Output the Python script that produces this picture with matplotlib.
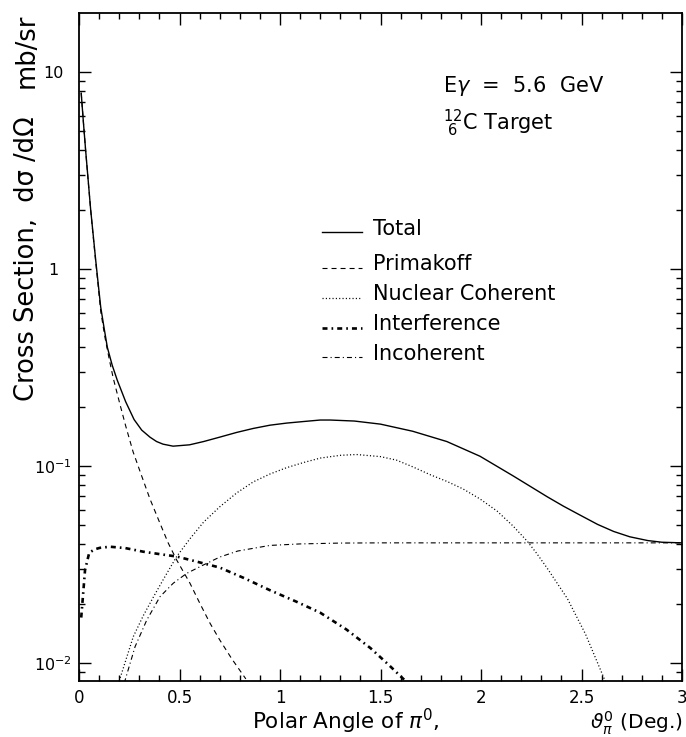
import matplotlib
matplotlib.use("Agg")
import matplotlib.pyplot as plt
from matplotlib.lines import Line2D
from matplotlib.ticker import MultipleLocator, FuncFormatter, LogLocator, NullFormatter

plt.rcParams['font.family'] = ['DejaVu Sans']
plt.rcParams['mathtext.fontset'] = 'dejavusans'
plt.rcParams['lines.scale_dashes'] = False

# ---------------- data ----------------
tot_x = [0.011, 0.021, 0.033, 0.045, 0.058, 0.070, 0.083, 0.095, 0.108, 0.125, 0.141,
         0.165, 0.190, 0.232, 0.274, 0.312, 0.353, 0.386, 0.418, 0.468, 0.550, 0.620,
         0.700, 0.785, 0.867, 0.950, 1.033, 1.116, 1.200, 1.250, 1.370, 1.500, 1.660,
         1.830, 1.995, 2.160, 2.330, 2.410, 2.490, 2.580, 2.660, 2.740, 2.830, 2.900, 3.000]
tot_y = [7.8, 5.7, 4.0, 2.87, 2.0, 1.51, 1.11, 0.85, 0.64, 0.50, 0.40,
         0.325, 0.273, 0.212, 0.172, 0.152, 0.140, 0.133, 0.129, 0.126, 0.128, 0.133,
         0.140, 0.148, 0.155, 0.161, 0.165, 0.168, 0.171, 0.171, 0.169, 0.163, 0.150,
         0.133, 0.112, 0.089, 0.0697, 0.0625, 0.0565, 0.0505, 0.0465, 0.0437, 0.0418, 0.0410, 0.0407]

pri_x = [0.011, 0.021, 0.033, 0.045, 0.058, 0.070, 0.083, 0.095, 0.108, 0.129, 0.150,
         0.170, 0.204, 0.232, 0.269, 0.310, 0.353, 0.400, 0.444, 0.486, 0.552, 0.602,
         0.652, 0.700, 0.760, 0.830]
pri_y = [7.8, 5.7, 4.0, 2.85, 2.0, 1.48, 1.09, 0.83, 0.61, 0.45, 0.35,
         0.28, 0.205, 0.160, 0.118, 0.090, 0.068, 0.052, 0.0406, 0.0333, 0.0254, 0.0200,
         0.0159, 0.0131, 0.0105, 0.0083]

nuc_x = [0.200, 0.270, 0.320, 0.370, 0.420, 0.486, 0.552, 0.620, 0.700, 0.785, 0.867,
         0.950, 1.033, 1.116, 1.200, 1.300, 1.380, 1.500, 1.580, 1.660, 1.750, 1.830,
         1.910, 1.995, 2.080, 2.160, 2.230, 2.277, 2.330, 2.430, 2.520, 2.620]
nuc_y = [0.0081, 0.0136, 0.0174, 0.0216, 0.0266, 0.0347, 0.0427, 0.0519, 0.0620, 0.073, 0.083,
         0.091, 0.098, 0.104, 0.1096, 0.1132, 0.1143, 0.1115, 0.107, 0.099, 0.090, 0.0835,
         0.0765, 0.0680, 0.0590, 0.0495, 0.0415, 0.0360, 0.0302, 0.0212, 0.0140, 0.0080]

int_x = [0.011, 0.013, 0.030, 0.051, 0.080, 0.104, 0.154, 0.230, 0.320, 0.400, 0.486,
         0.585, 0.700, 0.820, 0.950, 1.080, 1.200, 1.330, 1.450, 1.540, 1.630]
int_y = [0.0170, 0.0180, 0.0296, 0.0363, 0.0378, 0.0384, 0.0389, 0.0383, 0.0367, 0.0357, 0.0347,
         0.0327, 0.0305, 0.0270, 0.0234, 0.0205, 0.0180, 0.0148, 0.0119, 0.0098, 0.0080]

inc_x = [0.225, 0.279, 0.337, 0.403, 0.469, 0.536, 0.618, 0.701, 0.790, 0.950, 1.100,
         1.300, 1.500, 2.000, 2.500, 3.000]
inc_y = [0.0079, 0.0121, 0.0165, 0.0217, 0.0254, 0.0285, 0.0314, 0.0345, 0.0370, 0.0395, 0.0402,
         0.0406, 0.0407, 0.0407, 0.0407, 0.0407]

labels = ["Total", "Primakoff", "Nuclear Coherent", "Interference", "Incoherent"]
ytick_vals = [0.01, 0.1, 1, 10]
ytick_labels = [r"$10^{-2}$", r"$10^{-1}$", "1", "10"]

# ---------------- styles ----------------
styles = [
    dict(color='k', lw=1.0, ls='-'),
    dict(color='k', lw=0.8, ls=(0, (3.6, 2.9))),
    dict(color='k', lw=0.9, ls=(0, (0.8, 1.6))),
    dict(color='k', lw=1.9, ls=(0, (3.6, 2.9, 1.2, 2.9))),
    dict(color='k', lw=0.8, ls=(0, (3.6, 2.2, 0.8, 2.2))),
]

W, H = 686, 737
fig = plt.figure(figsize=(W / 100, H / 100), dpi=100)
L, R, T, B = 79, 682, 13, 681
ax = fig.add_axes([L / W, 1 - B / H, (R - L) / W, (B - T) / H])

series = [(tot_x, tot_y), (pri_x, pri_y), (nuc_x, nuc_y), (int_x, int_y), (inc_x, inc_y)]
for (xs, ys), st in zip(series, styles):
    ax.plot(xs, ys, solid_joinstyle='round', **st)

ax.set_yscale('log')
ax.set_xlim(0, 3)
ax.set_ylim(8.1e-3, 19.9)

ax.xaxis.set_major_locator(MultipleLocator(0.5))
ax.xaxis.set_minor_locator(MultipleLocator(0.1))
ax.xaxis.set_major_formatter(FuncFormatter(lambda v, p: f"{v:g}"))
ax.set_yticks(ytick_vals, ytick_labels)
ax.yaxis.set_minor_locator(LogLocator(base=10, subs=range(2, 10)))
ax.yaxis.set_minor_formatter(NullFormatter())

ax.tick_params(which='both', direction='in', top=True, right=True, width=1.0, colors='k')
ax.tick_params(which='major', length=8.6)
ax.tick_params(which='minor', length=4.3)
ax.tick_params(axis='x', which='major', labelsize=12, pad=5.5)
ax.tick_params(axis='y', which='major', labelsize=11.5, pad=18.5)
for lab in ax.get_yticklabels():
    lab.set_horizontalalignment('center')
for sp in ax.spines.values():
    sp.set_linewidth(1.3)


def fx(px):
    return px / W


def fy(py):
    return 1 - py / H


# legend (manual, figure coordinates)
leg_line_y = [232, 268, 298, 328, 357]
leg_text_y = [235, 270, 300, 330, 360]
for lab, st, ly, ty in zip(labels, styles, leg_line_y, leg_text_y):
    fig.add_artist(Line2D([fx(322), fx(362)], [fy(ly), fy(ly)], transform=fig.transFigure, **st))
    fig.text(fx(373), fy(ty), lab, fontsize=15, ha='left', va='baseline')

# annotations
fig.text(fx(443), fy(92), r"E$\gamma$  =  5.6  GeV", fontsize=15, ha='left', va='baseline')
fig.text(fx(443), fy(130), r"$^{12}_{\ 6}$C Target", fontsize=15, ha='left', va='baseline')

# axis labels
fig.text(fx(252), fy(729), r"Polar Angle of $\pi^{0}$,", fontsize=15.5, ha='left', va='baseline')
fig.text(fx(683), fy(729), r"$\vartheta_{\pi}^{0}$ (Deg.)", fontsize=14.5, ha='right', va='baseline')
fig.text(fx(27), fy(13), "mb/sr", fontsize=18.5, rotation=90, ha='center', va='top')
fig.text(fx(27), fy(116), "Cross Section,  dσ /dΩ", fontsize=18.5, rotation=90, ha='center', va='top')

fig.savefig("out.png", dpi=100)
